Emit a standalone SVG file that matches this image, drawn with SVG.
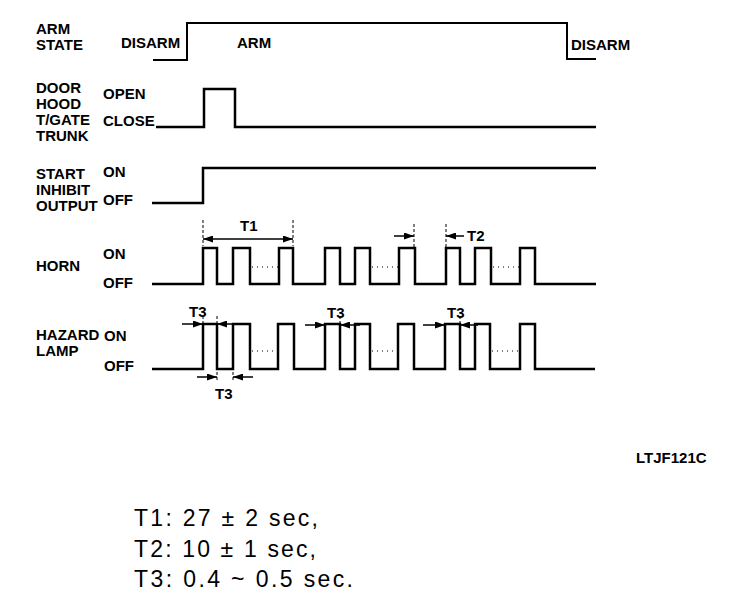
<svg xmlns="http://www.w3.org/2000/svg" width="736" height="604" viewBox="0 0 736 604">
<style>
text{font-family:"Liberation Sans",Arial,sans-serif;font-weight:bold;font-size:15px;fill:#000}
.big{font-weight:normal;font-size:23px}
.wave{fill:none;stroke:#000;stroke-width:2.5;stroke-linejoin:miter}
.dash{stroke:#000;stroke-width:1;stroke-dasharray:3 2;fill:none}
.dot{stroke:#000;stroke-width:1;stroke-dasharray:1 4;fill:none}
.arr{stroke:#000;stroke-width:1.5;fill:none;marker-end:url(#ah)}
</style>
<defs>
<marker id="ah" markerUnits="userSpaceOnUse" markerWidth="10" markerHeight="7" refX="10" refY="3.5" orient="auto">
<path d="M0,0 L10,3.5 L0,7 Z" fill="#000"/>
</marker>
</defs>
<rect width="736" height="604" fill="#fff"/>

<g id="arm-state">
<text x="36" y="34">ARM</text>
<text x="36" y="50">STATE</text>
<text x="121" y="48">DISARM</text>
<text x="237" y="48">ARM</text>
<text x="571" y="50">DISARM</text>
<path class="wave" style="stroke-width:2" d="M153,60 H187 V23 H567 V59 H596"/>
</g>

<g id="door">
<text x="36" y="93">DOOR</text>
<text x="36" y="109">HOOD</text>
<text x="36" y="125">T/GATE</text>
<text x="36" y="141">TRUNK</text>
<text x="103" y="99">OPEN</text>
<text x="103" y="126">CLOSE</text>
<path class="wave" d="M156,127 H204 V89 H235 V127 H596"/>
</g>

<g id="start-inhibit">
<text x="36" y="179">START</text>
<text x="36" y="195">INHIBIT</text>
<text x="36" y="211">OUTPUT</text>
<text x="103" y="177">ON</text>
<text x="103" y="205">OFF</text>
<path class="wave" d="M152,203 H203 V168 H596"/>
</g>

<g id="horn">
<text x="36" y="271">HORN</text>
<text x="103" y="259">ON</text>
<text x="103" y="288">OFF</text>
<path class="wave" d="M152,284 H203 V248 H217 V284 H233 V248 H250 V284 H279 V248 H293 V284 H325 V248 H340 V284 H355 V248 H370 V284 H399 V248 H415 V284 H446 V248 H460 V284 H475 V248 H491 V284 H520 V248 H535 V284 H596"/>
<path class="dot" d="M252,267 H278 M372,267 H398 M493,267 H519"/>
</g>

<g id="hazard">
<text x="36" y="340">HAZARD</text>
<text x="36" y="356">LAMP</text>
<text x="104" y="341">ON</text>
<text x="104" y="371">OFF</text>
<path class="wave" d="M152,369 H203 V324 H217 V369 H233 V324 H250 V369 H278 V324 H294 V369 H325 V324 H340 V369 H355 V324 H370 V369 H398 V324 H414 V369 H445 V324 H460 V369 H475 V324 H490 V369 H520 V324 H535 V369 H595"/>
<path class="dot" d="M252,351 H276 M372,351 H396 M492,351 H518"/>
</g>

<g id="timing-labels">
<text x="240" y="231">T1</text>
<text x="467" y="241">T2</text>
<text x="189" y="317">T3</text>
<text x="327" y="318">T3</text>
<text x="447" y="318">T3</text>
<text x="215" y="399">T3</text>
<text x="636" y="463">LTJF121C</text>
</g>

<g id="connectors">
<path class="dash" d="M203,220 V246 M293,220 V246 M414,224 V248 M446,224 V248"/>
<path class="dash" d="M203,316 V323 M217,316 V323 M340,316 V323 M460,316 V323 M217,372 V382 M233,372 V382"/>
<line class="arr" x1="248" y1="239" x2="203" y2="239"/>
<line class="arr" x1="248" y1="239" x2="293" y2="239"/>
<line class="arr" x1="394" y1="236" x2="414" y2="236"/>
<line class="arr" x1="464" y1="236" x2="446" y2="236"/>
<line class="arr" x1="182" y1="324" x2="203" y2="324"/>
<line class="arr" x1="237" y1="324" x2="217" y2="324"/>
<line class="arr" x1="305" y1="325" x2="325" y2="325"/>
<line class="arr" x1="360" y1="325" x2="340" y2="325"/>
<line class="arr" x1="423" y1="325" x2="445" y2="325"/>
<line class="arr" x1="478" y1="325" x2="460" y2="325"/>
<line class="arr" x1="197" y1="377" x2="217" y2="377"/>
<line class="arr" x1="253" y1="377" x2="233" y2="377"/>
</g>

<g id="legend">
<text class="big" x="134" y="526" textLength="184" lengthAdjust="spacing">T1:  27 ± 2 sec,</text>
<text class="big" x="134" y="557" textLength="182" lengthAdjust="spacing">T2:  10 ± 1 sec,</text>
<text class="big" x="134" y="587" textLength="219" lengthAdjust="spacing">T3:  0.4 ~ 0.5 sec.</text>
</g>
</svg>
